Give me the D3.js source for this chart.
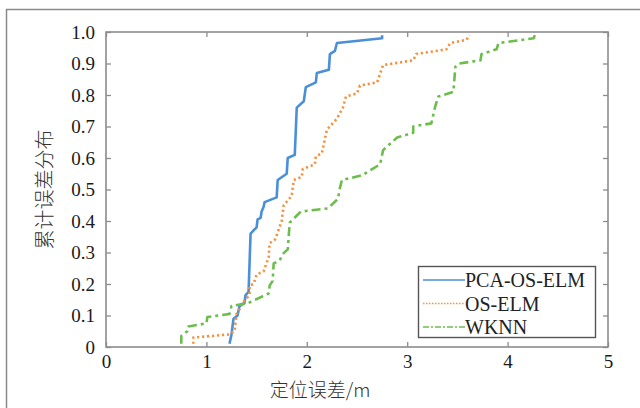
<!DOCTYPE html>
<html>
<head>
<meta charset="utf-8">
<script src="https://cdn.jsdelivr.net/npm/d3@7"></script>
<style>
  body { margin: 0; background: #fff; }
  svg { display: block; }
</style>
</head>
<body>
<svg id="chart" width="640" height="408"></svg>
<script>
// cumulative error distribution
const pcaOsElm = [
  [1.23, 0.01], [1.25, 0.04], [1.27, 0.09], [1.31, 0.10], [1.33, 0.13], [1.38, 0.14],
  [1.39, 0.165], [1.42, 0.175], [1.44, 0.36], [1.47, 0.37], [1.50, 0.38], [1.51, 0.405],
  [1.54, 0.41], [1.55, 0.43], [1.57, 0.445], [1.58, 0.46], [1.70, 0.475], [1.71, 0.53],
  [1.80, 0.55], [1.81, 0.60], [1.88, 0.61], [1.90, 0.76], [1.97, 0.78], [1.99, 0.825],
  [2.09, 0.84], [2.10, 0.87], [2.22, 0.88], [2.23, 0.93], [2.28, 0.94], [2.30, 0.965],
  [2.75, 0.98], [2.75, 0.99]
];
const osElm = [
  [0.87, 0.01], [0.87, 0.03], [1.23, 0.04], [1.28, 0.05], [1.30, 0.105], [1.33, 0.12],
  [1.36, 0.14], [1.43, 0.165], [1.43, 0.195], [1.47, 0.20], [1.50, 0.23], [1.57, 0.24],
  [1.62, 0.285], [1.63, 0.33], [1.68, 0.34], [1.70, 0.355], [1.75, 0.40], [1.77, 0.45],
  [1.81, 0.465], [1.85, 0.48], [1.87, 0.53], [1.95, 0.54], [1.96, 0.565], [2.08, 0.58],
  [2.09, 0.605], [2.15, 0.615], [2.20, 0.69], [2.23, 0.70], [2.30, 0.725], [2.36, 0.76],
  [2.39, 0.795], [2.50, 0.805], [2.53, 0.83], [2.70, 0.84], [2.76, 0.895], [3.06, 0.91],
  [3.09, 0.93], [3.39, 0.945], [3.43, 0.965], [3.59, 0.975], [3.62, 0.99]
];
const wknn = [
  [0.75, 0.01], [0.75, 0.035], [0.81, 0.05], [0.82, 0.065], [1.00, 0.075], [1.01, 0.095],
  [1.23, 0.105], [1.25, 0.13], [1.42, 0.14], [1.62, 0.17], [1.63, 0.195], [1.66, 0.21],
  [1.67, 0.265], [1.73, 0.275], [1.76, 0.295], [1.81, 0.31], [1.83, 0.395], [1.94, 0.43],
  [2.21, 0.44], [2.31, 0.47], [2.33, 0.505], [2.35, 0.53], [2.55, 0.545], [2.73, 0.58],
  [2.76, 0.625], [2.90, 0.665], [3.06, 0.68], [3.06, 0.70], [3.24, 0.71], [3.28, 0.765],
  [3.31, 0.795], [3.46, 0.81], [3.48, 0.89], [3.52, 0.90], [3.73, 0.91], [3.74, 0.93],
  [3.89, 0.945], [3.91, 0.965], [4.26, 0.98], [4.27, 0.99]
];
const seriesNames = ["PCA-OS-ELM", "OS-ELM", "WKNN"];
const xTicks = [0, 1, 2, 3, 4, 5];
const yTicks = [0, 0.1, 0.2, 0.3, 0.4, 0.5, 0.6, 0.7, 0.8, 0.9, 1.0];

const svg = d3.select("#chart");
const plotL = 106, plotR = 608, plotT = 32, plotB = 347;
const serif = "'Liberation Serif', 'Times New Roman', serif";

// outer figure frame
svg.append("rect")
  .attr("x", 6.5).attr("y", 9.5).attr("width", 660).attr("height", 420)
  .attr("fill", "none").attr("stroke", "#8a8a8a").attr("stroke-width", 1.5);

const x = d3.scaleLinear().domain([0, 5]).range([plotL, plotR]);
const y = d3.scaleLinear().domain([0, 1]).range([plotB, plotT]);

const axisColor = "#8c8c8c";
const tickLen = 5;

function styleAxis(g) {
  g.attr("font-family", serif);
  g.select(".domain").remove();
  g.selectAll(".tick line").attr("stroke", axisColor).attr("stroke-width", 1.3);
  g.selectAll(".tick text")
    .attr("fill", "#1a1a1a").style("font-family", serif).style("font-size", "19px");
}

// bottom and left axes with inner ticks
svg.append("g").attr("transform", `translate(0,${plotB})`)
  .call(d3.axisBottom(x).tickValues(xTicks).tickSizeInner(-tickLen).tickSizeOuter(0)
    .tickPadding(8).tickFormat(d3.format("d")))
  .call(styleAxis);
svg.append("g").attr("transform", `translate(${plotL},0)`)
  .call(d3.axisLeft(y).tickValues(yTicks).tickSizeInner(-tickLen).tickSizeOuter(0)
    .tickPadding(11).tickFormat(d => d === 0 ? "0" : d3.format(".1f")(d)))
  .call(styleAxis);
// top and right ticks, no labels
svg.append("g").attr("transform", `translate(0,${plotT})`)
  .call(d3.axisTop(x).tickValues(xTicks).tickSizeInner(-tickLen).tickSizeOuter(0).tickFormat(""))
  .call(styleAxis);
svg.append("g").attr("transform", `translate(${plotR},0)`)
  .call(d3.axisRight(y).tickValues(yTicks).tickSizeInner(-tickLen).tickSizeOuter(0).tickFormat(""))
  .call(styleAxis);

// plot box
svg.append("rect")
  .attr("x", plotL).attr("y", plotT).attr("width", plotR - plotL).attr("height", plotB - plotT)
  .attr("fill", "none").attr("stroke", axisColor).attr("stroke-width", 1.6);

const styles = [
  { data: pcaOsElm, color: "#4a8fd8", dash: null, width: 2.6 },
  { data: osElm, color: "#f5913e", dash: "2.2,2.8", width: 2.6 },
  { data: wknn, color: "#6cbd4c", dash: "9,4,3,4", width: 2.6 }
];

const line = d3.line().x(d => x(d[0])).y(d => y(d[1]));

styles.forEach(s => {
  svg.append("path")
    .attr("d", line(s.data))
    .attr("fill", "none")
    .attr("stroke", s.color)
    .attr("stroke-width", s.width)
    .attr("stroke-linejoin", "round")
    .attr("stroke-dasharray", s.dash);
});

// legend
const lg = svg.append("g");
lg.append("rect")
  .attr("x", 418.5).attr("y", 266.5).attr("width", 177).attr("height", 71)
  .attr("fill", "#fff").attr("stroke", "#555").attr("stroke-width", 1.4);
styles.forEach((s, i) => {
  const yy = 280 + i * 23.5;
  lg.append("line")
    .attr("x1", 423).attr("x2", 465).attr("y1", yy).attr("y2", yy)
    .attr("stroke", s.color).attr("stroke-width", 1.6)
    .attr("stroke-dasharray", s.dash ? (i === 1 ? "1.5,1.5" : "6,2,2,2") : null);
  lg.append("text")
    .attr("x", 465).attr("y", yy + 7)
    .style("font-family", serif).style("font-size", "20px").attr("fill", "#222")
    .text(seriesNames[i]);
});

// axis titles
svg.append("text")
  .attr("x", 320).attr("y", 397)
  .attr("text-anchor", "middle")
  .style("font-family", "'Noto Sans CJK SC', sans-serif").style("font-size", "19px")
  .style("font-weight", 300).attr("fill", "#333")
  .text("定位误差/m");
svg.append("text")
  .attr("transform", `translate(52,${(plotT + plotB) / 2}) rotate(-90)`)
  .attr("text-anchor", "middle")
  .style("font-family", "'Noto Sans CJK SC', sans-serif").style("font-size", "20px")
  .style("font-weight", 300).attr("fill", "#333")
  .text("累计误差分布");
</script>
</body>
</html>
